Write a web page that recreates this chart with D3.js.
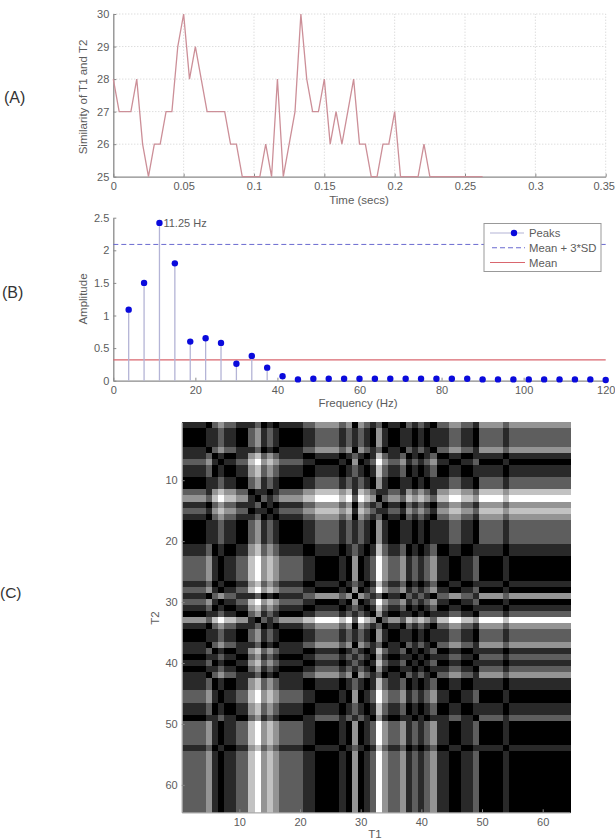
<!DOCTYPE html>
<html>
<head>
<meta charset="utf-8">
<script src="https://cdnjs.cloudflare.com/ajax/libs/d3/7.8.5/d3.min.js"></script>
<style>
html,body{margin:0;padding:0;background:#fff;}
svg{display:block;font-family:"Liberation Sans",Arial,sans-serif;}
text{fill:#5c5c5c;}
</style>
</head>
<body>
<svg id="fig" width="615" height="840"></svg>
<script>
// (A) similarity of T1 and T2 at each lag, one sample every 1/240 s
const similarity = [28,27,27,27,28,26,25,26,26,27,27,29,30,28,29,28,27,27,27,27,26,26,25,25,25,25,26,25,28,25,26,27,30,28,27,27,28,26,27,26,27,28,26,26,25,25,26,26,27,25,25,25,25,26,25,25,25,25,25,25,25,25,25,25];
const samplesPerSec = 240;
const timeTicks = [0,0.05,0.1,0.15,0.2,0.25,0.3,0.35];
const simTicks = [25,26,27,28,29,30];

// (B) amplitude spectrum, one peak every 3.75 Hz
const peakAmps = [1.09,1.5,2.42,1.8,0.6,0.65,0.58,0.26,0.38,0.2,0.07,0.02,0.03,0.03,0.03,0.03,0.03,0.03,0.03,0.03,0.03,0.03,0.03,0.02,0.02,0.02,0.02,0.02,0.02,0.02,0.02,0.01];
const peakStep = 3.75;
const freqTicks = [0,20,40,60,80,100,120];
const ampTicks = [0,0.5,1,1.5,2,2.5];
const ampLabels = ["0","0.5","1","1.5","2","2.5"];
const meanAmp = 0.32;
const meanPlus3SD = 2.09;
const legendNames = ["Peaks","Mean + 3*SD","Mean"];

// (C) quantised levels of the two sequences; each cell is their absolute difference
const t1Levels = [2,2,2,2,3,1,0,1,1,2,2,4,5,3,4,3,2,2,2,2,1,1,0,0,0,0,1,0,3,0,1,2,5,3,2,2,3,1,2,1,2,3,1,1,0,0,1,1,2,0,0,0,0,1,0,0,0,0,0,0,0,0,0,0];
const t2Levels = [3,2,2,2,3,1,0,1,1,2,2,4,5,3,4,3,2,2,2,2,1,1,0,0,0,0,1,0,3,0,1,2,5,3,2,2,3,1,2,1,2,3,1,1,0,0,1,1,2,0,0,0,0,1,0,0,0,0,0,0,0,0,0,0];
const greyLevels = [0,0.16,0.37,0.58,0.76,1];
const matTicks = [10,20,30,40,50,60];

const svg = d3.select("#fig");
const axisGrey = "#8a8a8a", fs = 11, labelSize = 11.5;

function styleAxis(g){
  g.selectAll("path,line").attr("stroke",axisGrey);
  g.select("path").attr("stroke-width",1.3);
  g.selectAll("text").style("font-size",fs+"px").style("font-family","inherit").attr("fill","#5c5c5c");
}
const label = (x,y,s,opts={}) => svg.append("text").attr("x",x).attr("y",y).text(s)
  .attr("text-anchor",opts.anchor||"middle").style("font-size",(opts.size||labelSize)+"px")
  .style("fill",opts.fill||null)
  .attr("transform",opts.rot?`rotate(${opts.rot} ${x} ${y})`:null);

// Panel letters
label(4,103,"(A)",{anchor:"start",size:16,fill:"#333"});
label(2,298,"(B)",{anchor:"start",size:16,fill:"#333"});
label(0,598,"(C)",{anchor:"start",size:15.5,fill:"#333"});

// ---------- Panel A ----------
const ax = d3.scaleLinear().domain([0,0.35]).range([113.3,605.7]);
const ay = d3.scaleLinear().domain([25,30]).range([176.7,14]);
const grid = svg.append("g").attr("stroke","#cfcfcf").attr("stroke-dasharray","1 2").attr("fill","none");
grid.selectAll("line.v").data(timeTicks.slice(1)).join("line")
  .attr("x1",d=>ax(d)).attr("x2",d=>ax(d)).attr("y1",ay(25)).attr("y2",ay(30));
grid.selectAll("line.h").data(simTicks.slice(1)).join("line")
  .attr("x1",ax(0)).attr("x2",ax(0.35)).attr("y1",d=>ay(d)).attr("y2",d=>ay(d));
const timeAxis = svg.append("g").attr("transform",`translate(0,${ay(25)})`)
  .call(d3.axisBottom(ax).tickValues(timeTicks).tickFormat(d3.format("~g")).tickSize(-3).tickPadding(6).tickSizeOuter(0)).call(styleAxis);
// the last label sits close to the page edge, nudge it inward
timeAxis.selectAll(".tick:last-of-type text").attr("dx",-2);
svg.append("g").attr("transform",`translate(${ax(0)},0)`)
  .call(d3.axisLeft(ay).tickValues(simTicks).tickFormat(d3.format("d")).tickSize(-3).tickPadding(4).tickSizeOuter(0)).call(styleAxis);
svg.append("path").datum(similarity).attr("fill","none").attr("stroke","#cc8f98").attr("stroke-width",1.3)
  .attr("d",d3.line().x((d,i)=>ax(i/samplesPerSec)).y(d=>ay(d)));
label(87,97,"Similarity of T1 and T2",{rot:-90});
label(359,204,"Time (secs)");

// ---------- Panel B ----------
const bx = d3.scaleLinear().domain([0,120]).range([113.3,605.7]);
const by = d3.scaleLinear().domain([0,2.5]).range([380.7,217.7]);
svg.append("g").attr("transform",`translate(0,${by(0)})`)
  .call(d3.axisBottom(bx).tickValues(freqTicks).tickSize(-3).tickPadding(6).tickSizeOuter(0)).call(styleAxis);
svg.append("g").attr("transform",`translate(${bx(0)},0)`)
  .call(d3.axisLeft(by).tickValues(ampTicks).tickFormat((d,i)=>ampLabels[i]).tickSize(-3).tickPadding(4).tickSizeOuter(0)).call(styleAxis);
svg.append("line").attr("x1",bx(0)).attr("x2",bx(120)).attr("y1",by(meanPlus3SD)).attr("y2",by(meanPlus3SD))
  .attr("stroke","#6a6ad0").attr("stroke-dasharray","5 3");
svg.append("line").attr("x1",bx(0)).attr("x2",bx(120)).attr("y1",by(meanAmp)).attr("y2",by(meanAmp))
  .attr("stroke","#d9666e").attr("stroke-width",1.4);
const peaks = svg.append("g");
peaks.selectAll("line").data(peakAmps).join("line")
  .attr("x1",(d,i)=>bx((i+1)*peakStep)).attr("x2",(d,i)=>bx((i+1)*peakStep))
  .attr("y1",by(0)).attr("y2",d=>by(d)).attr("stroke","#b4b4d6").attr("stroke-width",1.3);
peaks.selectAll("circle").data(peakAmps).join("circle")
  .attr("cx",(d,i)=>bx((i+1)*peakStep)).attr("cy",d=>by(d)).attr("r",3.2).attr("fill","#0a0adc");
label(bx(3*peakStep)+4,by(peakAmps[2])+4,"11.25 Hz",{anchor:"start",size:fs});
label(87,299,"Amplitude",{rot:-90});
label(358,407,"Frequency (Hz)");

// Legend
const lg = svg.append("g").attr("transform","translate(484,223.5)");
lg.append("rect").attr("width",117).attr("height",48).attr("fill","#fff").attr("stroke","#999");
const rowY = d3.scalePoint().domain(legendNames).range([9.5,39]);
lg.selectAll("text").data(legendNames).join("text").attr("x",45).attr("y",d=>rowY(d)+4)
  .style("font-size","11.3px").text(d=>d);
lg.append("line").attr("x1",6).attr("x2",40).attr("y1",rowY("Peaks")).attr("y2",rowY("Peaks")).attr("stroke","#b4b4d6").attr("stroke-width",1.2);
lg.append("circle").attr("cx",30).attr("cy",rowY("Peaks")).attr("r",3.2).attr("fill","#0a0adc");
lg.append("line").attr("x1",8).attr("x2",41).attr("y1",rowY(legendNames[1])).attr("y2",rowY(legendNames[1])).attr("stroke","#6a6ad0").attr("stroke-dasharray","5 3");
lg.append("line").attr("x1",6).attr("x2",41).attr("y1",rowY("Mean")).attr("y2",rowY("Mean")).attr("stroke","#d9666e").attr("stroke-width",1.2);

// ---------- Panel C ----------
const cx = d3.scaleLinear().domain([0.5,t1Levels.length+0.5]).range([181.7,570]);
const cy = d3.scaleLinear().domain([0.5,t2Levels.length+0.5]).range([422.3,812.3]);
const grey = d3.scaleLinear().domain(d3.range(greyLevels.length)).range(greyLevels.map(v=>d3.rgb(v*255,v*255,v*255)));
const cells = t2Levels.flatMap((b,j)=>t1Levels.map((a,i)=>({i:i+1,j:j+1,v:Math.abs(a-b)})));
svg.append("g").attr("shape-rendering","crispEdges").selectAll("rect").data(cells).join("rect")
  .attr("x",d=>cx(d.i-0.5)).attr("y",d=>cy(d.j-0.5))
  .attr("width",cx(1.5)-cx(0.5)+0.5).attr("height",cy(1.5)-cy(0.5)+0.5)
  .attr("fill",d=>grey(d.v));
svg.append("g").attr("transform",`translate(0,${cy(t2Levels.length+0.5)})`)
  .call(d3.axisBottom(cx).tickValues(matTicks).tickSize(-3).tickPadding(6).tickSizeOuter(0)).call(styleAxis).select("path").attr("stroke","#aaa");
svg.append("g").attr("transform",`translate(${cx(0.5)},0)`)
  .call(d3.axisLeft(cy).tickValues(matTicks).tickSize(-3).tickPadding(4).tickSizeOuter(0)).call(styleAxis).select("path").attr("stroke","#aaa");
label(375,838,"T1");
label(159,618,"T2",{rot:-90});
</script>
</body>
</html>
